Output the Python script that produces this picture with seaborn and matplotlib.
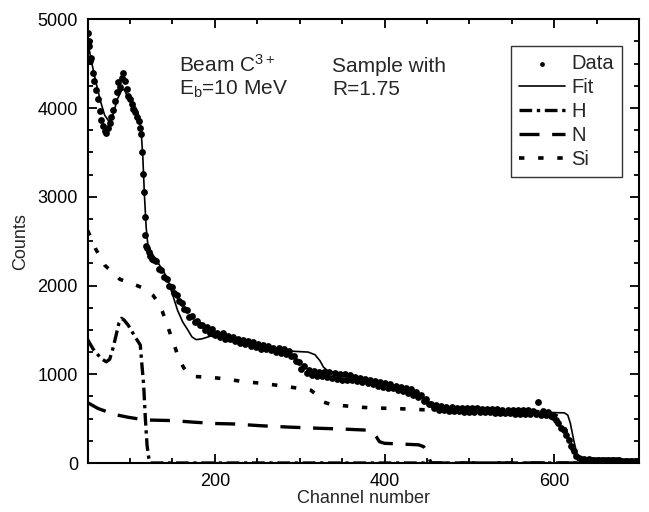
import numpy as np
import pandas as pd
import matplotlib
matplotlib.use("Agg")
import matplotlib.pyplot as plt
import seaborn as sns
from matplotlib.ticker import MultipleLocator

# measured spectrum: steep front part, read channel by channel
ch_front = [50, 51, 52, 53, 54, 56, 58, 60, 62, 64, 66, 68, 70, 72, 74, 76, 78, 80, 82, 84,
            86, 88, 90, 92, 94, 96, 98, 100, 102, 104, 106, 108, 110, 112, 113, 114, 115, 116,
            117, 118, 119, 120, 122, 124, 126, 128]
cnt_front = [4850, 4760, 4700, 4530, 4560, 4400, 4300, 4200, 4100, 3970, 3860, 3800, 3740, 3720,
             3780, 3830, 3900, 3980, 4080, 4180, 4290, 4240, 4340, 4390, 4300, 4220, 4140, 4100,
             4050, 3990, 3960, 3900, 3850, 3780, 3710, 3500, 3260, 3050, 2770, 2570, 2450, 2420,
             2380, 2330, 2300, 2290]

# rest of the spectrum, every 3rd channel from 131 to 698
ch_tail = np.arange(131, 700, 3)
cnt_tail = [2280, 2190, 2170, 2100, 2070, 2000, 1980, 1920, 1890, 1820,
            1800, 1730, 1720, 1650, 1660, 1590, 1600, 1550, 1560, 1500,
            1530, 1460, 1510, 1440, 1470, 1420, 1470, 1400, 1430, 1400,
            1420, 1370, 1400, 1350, 1390, 1340, 1370, 1320, 1360, 1310,
            1340, 1290, 1330, 1280, 1320, 1270, 1300, 1250, 1300, 1240,
            1290, 1230, 1260, 1210, 1210, 1150, 1140, 1060, 1090, 1010,
            1050, 990, 1040, 980, 1030, 980, 1020, 970, 1030, 960,
            1010, 950, 1000, 940, 1000, 930, 990, 930, 970, 920,
            960, 910, 950, 900, 940, 890, 920, 870, 910, 860,
            900, 850, 890, 840, 870, 820, 860, 810, 840, 790,
            830, 770, 800, 740, 770, 700, 720, 660, 670, 620,
            650, 600, 640, 595, 635, 590, 630, 590, 625, 585,
            625, 580, 620, 580, 618, 575, 615, 575, 612, 570,
            610, 570, 608, 565, 605, 565, 602, 560, 600, 558,
            598, 556, 596, 555, 594, 552, 592, 550, 590, 548,
            690, 545, 585, 540, 575, 530, 520, 480, 455, 400,
            370, 320, 260, 190, 130, 80, 55, 45, 40, 38,
            40, 38, 37, 36, 35, 34, 33, 33, 32, 31,
            30, 30, 29, 28, 28, 27, 26, 25, 25, 24]

# fit and its components
fit_ch = [50, 55, 60, 65, 70, 75, 80, 85, 90, 93, 96, 100, 104, 108, 111, 113, 115, 117, 119,
          121, 124, 130, 140, 145, 150, 156, 162, 168, 173, 178, 185, 195, 210, 230, 250, 270,
          290, 310, 318, 324, 328, 333, 340, 350, 370, 390, 410, 430, 445, 455, 465, 480, 520,
          560, 600, 612, 616, 619, 623, 627, 632, 650, 700]
fit_cnt = [4750, 4500, 4280, 4080, 3920, 3850, 3930, 4100, 4200, 4210, 4150, 4090, 4040, 3980,
           3880, 3750, 3450, 3000, 2650, 2450, 2390, 2300, 2150, 2050, 1900, 1720, 1590, 1500,
           1420, 1390, 1400, 1430, 1410, 1370, 1330, 1290, 1260, 1250, 1220, 1150, 1080, 1040,
           1020, 1000, 970, 920, 870, 810, 720, 650, 620, 610, 595, 580, 568, 565, 540, 450,
           260, 90, 30, 25, 15]

h_ch = [50, 56, 62, 67, 72, 76, 80, 84, 87, 90, 93, 98, 106, 112, 114, 116, 118, 120, 122, 124, 700]
h_cnt = [1390, 1290, 1220, 1170, 1140, 1170, 1300, 1460, 1580, 1630, 1610, 1550, 1420, 1330,
         1100, 880, 500, 200, 60, 0, 0]

n_ch = [50, 62, 75, 85, 98, 118, 150, 175, 200, 222, 254, 286, 321, 357, 380, 386, 390, 394,
        400, 440, 446, 450, 453, 455, 700]
n_cnt = [680, 615, 570, 540, 515, 485, 478, 460, 445, 440, 420, 405, 392, 380, 370, 345, 300,
         240, 222, 205, 185, 130, 40, 0, 0]

si_ch = [50, 59, 70, 88, 108, 118, 127, 133, 138, 145, 151, 158, 166, 175, 195, 215, 234, 254,
         274, 293, 313, 320, 327, 335, 347, 369, 388, 408, 428, 446, 480, 520, 560, 595, 605,
         612, 618, 623, 628, 632, 700]
si_cnt = [2620, 2420, 2230, 2070, 2000, 1960, 1890, 1810, 1710, 1520, 1360, 1160, 1030, 975,
          965, 945, 915, 900, 875, 850, 820, 770, 690, 665, 650, 630, 620, 615, 608, 600, 595,
          590, 585, 575, 520, 400, 250, 100, 20, 0, 0]

sns.set_theme(style="ticks")
plt.rcParams["font.family"] = ["Liberation Sans", "DejaVu Sans"]
plt.rcParams["mathtext.default"] = "regular"

data = pd.DataFrame({"channel": list(ch_front) + list(ch_tail),
                     "counts": list(cnt_front) + list(cnt_tail)})

fig = plt.figure(figsize=(6.49, 5.12), dpi=100)
ax = fig.add_axes([0.1351, 0.0957, 0.8495, 0.8666])

sns.scatterplot(data=data, x="channel", y="counts", ax=ax, color="black", s=24,
                linewidth=0, label="Data", zorder=3)
sns.lineplot(x=fit_ch, y=fit_cnt, ax=ax, color="black", lw=1.2, sort=False,
             estimator=None, label="Fit", zorder=4)
sns.lineplot(x=h_ch, y=h_cnt, ax=ax, color="black", lw=2.4, sort=False, estimator=None,
             linestyle=(0, (3.8, 1.4, 1.0, 1.4)), label="H")
sns.lineplot(x=n_ch, y=n_cnt, ax=ax, color="black", lw=2.4, sort=False, estimator=None,
             linestyle=(0, (6, 3.8)), label="N")
sns.lineplot(x=si_ch, y=si_cnt, ax=ax, color="black", lw=2.6, sort=False, estimator=None,
             linestyle=(0, (1.5, 3.8)), label="Si")

ax.set_xlim(50, 700)
ax.set_ylim(0, 5000)
ax.xaxis.set_major_locator(MultipleLocator(200))
ax.xaxis.set_minor_locator(MultipleLocator(50))
ax.yaxis.set_major_locator(MultipleLocator(1000))
ax.yaxis.set_minor_locator(MultipleLocator(250))
ax.tick_params(which="both", direction="in", top=True, right=True, width=1.3,
               labelsize=13, colors="black")
ax.tick_params(which="major", length=6.5, pad=7)
ax.tick_params(which="minor", length=3.5)
for sp in ax.spines.values():
    sp.set_linewidth(1.5)
    sp.set_color("black")

ax.set_xlabel("Channel number", fontsize=13, labelpad=0)
ax.set_ylabel("Counts", fontsize=13, labelpad=6)

ax.text(0.166, 0.881, "Beam C$^{3+}$", transform=ax.transAxes, fontsize=15, va="baseline")
ax.text(0.166, 0.829, "E$_b$=10 MeV", transform=ax.transAxes, fontsize=15, va="baseline")
ax.text(0.443, 0.881, "Sample with", transform=ax.transAxes, fontsize=15, va="baseline")
ax.text(0.443, 0.829, "R=1.75", transform=ax.transAxes, fontsize=15, va="baseline")

leg = ax.legend(loc="upper right", bbox_to_anchor=(0.969, 0.94), borderaxespad=0,
                fontsize=14.5, frameon=True, fancybox=False, handlelength=2.3,
                handletextpad=0.3, labelspacing=0.25, borderpad=0.4, scatterpoints=1,
                markerscale=0.7)
leg.get_frame().set_edgecolor("black")
leg.get_frame().set_linewidth(1.0)

fig.savefig("out.png", dpi=100)
